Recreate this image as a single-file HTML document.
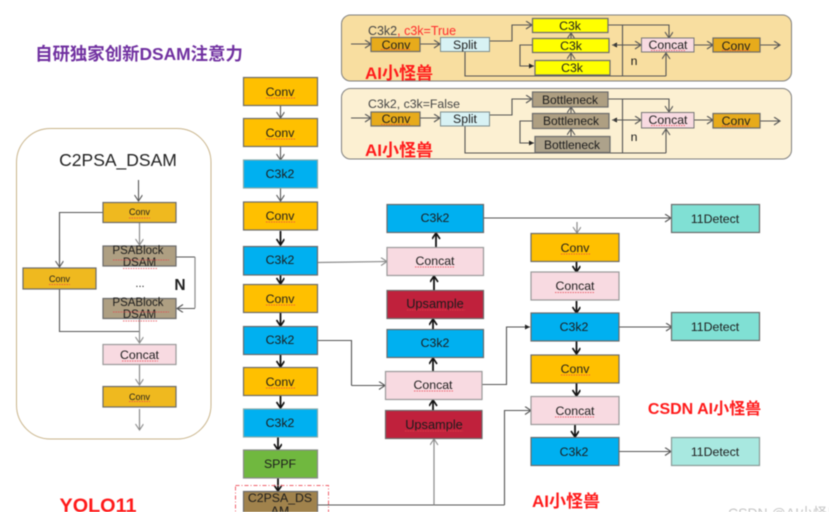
<!DOCTYPE html>
<html><head><meta charset="utf-8">
<style>
html,body{margin:0;padding:0;background:#fff;width:829px;height:512px;overflow:hidden}
svg{display:block;filter:blur(0.45px)}
text{font-family:"Liberation Sans","Noto Sans CJK SC",sans-serif;text-anchor:middle;fill:#1c1c1c}
.b{stroke:#6b6b6b;stroke-width:1.2}
.o{fill:#ffc000}.c{fill:#00b0f0}.p{fill:#f8dae1}.r{fill:#c0213c}.d{fill:#80e0d4}.y{fill:#ffff00}.g{fill:#ae9f82}.j{fill:#efb91f}.k{fill:#e7ab1b}
.t{font-size:12.3px}
.h{stroke:#111;stroke-width:1.8;fill:none}
.l{stroke:#555;stroke-width:1.1;fill:none}
.n{stroke:#8a8a8a;stroke-width:1.2;fill:none}
.w{stroke:#e8404a;stroke-width:1;stroke-dasharray:1.5 1;fill:none;opacity:.75}
.red{fill:#ff1a1a;font-weight:bold}
</style></head><body>
<svg width="829" height="512" viewBox="0 0 829 512" xmlns="http://www.w3.org/2000/svg">
<defs>
<marker id="v" markerWidth="10" markerHeight="10" refX="7" refY="4" orient="auto" markerUnits="userSpaceOnUse"><path d="M1 0L7 4L1 8" fill="none" stroke="#555" stroke-width="1.1"/></marker>
<marker id="g" markerWidth="10" markerHeight="10" refX="7" refY="4" orient="auto" markerUnits="userSpaceOnUse"><path d="M1 0L7 4L1 8" fill="none" stroke="#8a8a8a" stroke-width="1.1"/></marker>
<marker id="h" markerWidth="10" markerHeight="10" refX="7" refY="4" orient="auto" markerUnits="userSpaceOnUse"><path d="M1 0L7 4L1 8" fill="none" stroke="#111" stroke-width="1.6"/></marker>
<marker id="s" markerWidth="7" markerHeight="7" refX="5" refY="2.5" orient="auto" markerUnits="userSpaceOnUse"><path d="M0 0L5 2.5L0 5z" fill="#222"/></marker>
</defs>

<text x="139" y="60" style="font-size:17.400px;font-weight:bold;fill:#7030a0">自研独家创新DSAM注意力</text>

<!-- Top panels -->
<rect x="341.500" y="15" width="450" height="66" rx="9" fill="#f8dea0" stroke="#7f7f7f" stroke-width="1"/>
<rect x="341.500" y="88.500" width="450" height="70.500" rx="9" fill="#fcf0d2" stroke="#7f7f7f" stroke-width="1"/>

<text x="412" y="35" style="font-size:12.500px;fill:#444">C3k2<tspan style="fill:#ff2a2a">, c3k=True</tspan></text>
<text x="414" y="108" style="font-size:12.300px;fill:#444">C3k2, c3k=False</text>

<!-- panel 1 connectors -->
<path class="l" marker-end="url(#v)" d="M351 44H371"/>
<path class="l" marker-end="url(#v)" d="M420 44H440"/>
<path class="l" marker-end="url(#v)" d="M490 41H512V25H532"/>
<path class="l" d="M465 51V76H666"/>
<path class="l" marker-end="url(#v)" d="M666 76V53"/>
<path class="l" marker-end="url(#v)" d="M608 25H669V38"/>
<path class="l" d="M622.500 25V76"/>
<path class="l" marker-end="url(#s)" d="M641 45H612"/>
<path class="l" marker-end="url(#v)" d="M612 45H641"/>
<path class="l" marker-end="url(#v)" d="M694 45H713"/>
<path class="l" marker-end="url(#v)" d="M760 45H780"/>
<path class="l" marker-end="url(#s)" d="M532 45H520V66H534"/>
<path class="l" marker-end="url(#v)" d="M571 38V33"/>
<path class="l" marker-end="url(#v)" d="M571 60V53"/>

<!-- panel 2 connectors -->
<path class="l" marker-end="url(#v)" d="M351 118H371"/>
<path class="l" marker-end="url(#v)" d="M420 118H440"/>
<path class="l" marker-end="url(#v)" d="M490 115H512V99H532"/>
<path class="l" d="M465 126V153H666"/>
<path class="l" marker-end="url(#v)" d="M666 153V129"/>
<path class="l" marker-end="url(#v)" d="M608 99H669V112"/>
<path class="l" d="M622.500 99V153"/>
<path class="l" marker-end="url(#s)" d="M641 120H612"/>
<path class="l" marker-end="url(#v)" d="M612 120H641"/>
<path class="l" marker-end="url(#v)" d="M694 120H713"/>
<path class="l" marker-end="url(#v)" d="M760 121H780"/>
<path class="l" marker-end="url(#s)" d="M532 121H520V143H534"/>
<path class="l" marker-end="url(#v)" d="M571 113V107"/>
<path class="l" marker-end="url(#v)" d="M571 136V129"/>

<!-- panel 1 boxes -->
<rect class="b k" x="371" y="37.500" width="49" height="14"/>
<rect x="440.500" y="37.500" width="49" height="14" fill="#d8f2f4" stroke="#7f8f8f"/>
<rect class="b y" x="532.500" y="18.500" width="75.500" height="14"/>
<rect class="b y" x="532.500" y="38.500" width="76.500" height="14"/>
<rect class="b y" x="535" y="60.500" width="75" height="14.500"/>
<rect x="641.500" y="38" width="52.500" height="14" fill="#f8dae1" stroke="#777"/>
<rect class="b k" x="713" y="38" width="47" height="14"/>
<text x="396" y="49" class="t">Conv</text><text x="465" y="49" class="t">Split</text>
<text x="570" y="30" class="t">C3k</text><text x="571" y="50" class="t">C3k</text><text x="572" y="72" class="t">C3k</text>
<text x="668" y="49" class="t">Concat</text><text x="736" y="50" class="t">Conv</text>
<text x="634" y="65" class="t">n</text>
<path class="w" d="M381 49.500H411M651 50.500H686M722 50.500H750"/>
<text x="399" y="79" class="red" style="font-size:17px">AI小怪兽</text>

<!-- panel 2 boxes -->
<rect class="b k" x="371" y="112" width="49" height="14"/>
<rect x="440.500" y="112" width="49" height="14" fill="#d8f2f4" stroke="#7f8f8f"/>
<rect class="b g" x="532.500" y="92" width="75.500" height="15"/>
<rect class="b g" x="532.500" y="113.500" width="76.500" height="15"/>
<rect class="b" fill="#ada28b" x="535" y="136.500" width="75" height="16"/>
<rect x="641.500" y="112.500" width="52.500" height="15.500" fill="#f8dae1" stroke="#777"/>
<rect class="b k" x="713" y="113.500" width="47" height="14.500"/>
<text x="396" y="123" class="t">Conv</text><text x="465" y="123" class="t">Split</text>
<text x="570" y="104" style="font-size:12px">Bottleneck</text><text x="571" y="125" style="font-size:12px">Bottleneck</text><text x="572" y="149" style="font-size:12px">Bottleneck</text>
<text x="668" y="124" class="t">Concat</text><text x="736" y="125" class="t">Conv</text>
<text x="634" y="141" class="t">n</text>
<path class="w" d="M381 124.500H411M651 125.500H686M722 126H750"/>
<text x="399" y="156" class="red" style="font-size:17px">AI小怪兽</text>

<!-- C2PSA panel -->
<rect x="16.500" y="128.500" width="194.500" height="310.500" rx="34" fill="#fff" stroke="#c9b48a" stroke-width="1"/>
<text x="118" y="166" style="font-size:17.500px;fill:#222">C2PSA_DSAM</text>
<path class="l" marker-end="url(#v)" d="M138.500 180V201"/>
<path class="l" d="M103 212.500H59.500V268"/>
<path class="l" marker-end="url(#v)" d="M59.500 240V267"/>
<path class="n" marker-end="url(#g)" d="M139.500 223V245"/>
<path class="l" d="M176 257H195"/>
<path class="n" d="M195 257V308"/>
<path class="l" marker-end="url(#v)" d="M195 308.500H177"/>
<path class="l" d="M59.500 289V331.500H139.500"/>
<path class="n" marker-end="url(#g)" d="M139.500 319V343"/>
<path class="n" marker-end="url(#g)" d="M139.500 365V385"/>
<path class="n" marker-end="url(#g)" d="M139.500 409V430"/>
<rect class="b j" x="103" y="202.500" width="73" height="20"/>
<rect class="b j" x="23" y="268" width="73" height="21"/>
<rect class="b g" x="103" y="246" width="73" height="20"/>
<rect class="b g" x="103" y="298.500" width="73" height="20"/>
<rect class="b p" x="103" y="344.500" width="73" height="20" style="stroke:#999"/>
<rect class="b j" x="103" y="386.500" width="73" height="20.500"/>
<text x="139.500" y="215" style="font-size:9px">Conv</text>
<text x="59.500" y="282" style="font-size:9px">Conv</text>
<text x="138" y="254" style="font-size:11.500px">PSABlock</text>
<text x="139.500" y="266" style="font-size:11.500px">DSAM</text>
<text x="138" y="306" style="font-size:11.500px">PSABlock</text>
<text x="139.500" y="318" style="font-size:11.500px">DSAM</text>
<text x="140" y="287" style="font-size:11px">...</text>
<text x="180" y="290" style="font-size:15.500px;font-weight:bold;fill:#222">N</text>
<text x="139.500" y="359" class="t">Concat</text>
<text x="139.500" y="400" style="font-size:9px">Conv</text>
<path class="w" d="M129 218H150M49 284.500H70M113 260H169M123 268.500H157M113 312H169M123 321H157M122 361H158M129 401.500H150"/>

<text x="98" y="512" class="red" style="font-size:19.800px">YOLO11</text>

<!-- backbone connectors -->
<path class="l" marker-end="url(#v)" d="M280.500 105V118"/>
<path class="l" marker-end="url(#v)" d="M280.500 147V160"/>
<path class="l" marker-end="url(#v)" d="M280.500 188V201"/>
<path class="h" marker-end="url(#h)" d="M280.500 231V245"/>
<path class="h" marker-end="url(#h)" d="M280.500 275V284"/>
<path class="h" marker-end="url(#h)" d="M280.500 313V326"/>
<path class="h" marker-end="url(#h)" d="M280.500 355V367"/>
<path class="h" marker-end="url(#h)" d="M280.500 396V408"/>
<path class="h" marker-end="url(#h)" d="M278 437V450"/>
<path class="h" marker-end="url(#h)" d="M278 478V491"/>
<!-- backbone boxes -->
<rect class="b o" x="243.500" y="77.500" width="74" height="28"/>
<rect class="b o" x="243.500" y="118.500" width="74" height="28"/>
<rect class="b c" x="243.500" y="160" width="74" height="28" style="stroke:#8aa"/>
<rect class="b o" x="243.500" y="202" width="74" height="28"/>
<rect class="b c" x="243.500" y="246.500" width="74" height="28.500"/>
<rect class="b o" x="243.500" y="284.500" width="74" height="28"/>
<rect class="b c" x="243.500" y="326.500" width="74" height="28"/>
<rect class="b o" x="243.500" y="367.500" width="74" height="28"/>
<rect class="b c" x="243.500" y="409" width="74" height="28" style="stroke:#8aa"/>
<rect class="b" fill="#70b83f" x="243.500" y="450" width="74" height="28" style="stroke:#8a8a8a"/>
<rect class="b" fill="#a0824c" x="243.500" y="491.500" width="74" height="30"/>
<rect x="235.500" y="485.500" width="93" height="40" fill="none" stroke="#f0606a" stroke-width="1" stroke-dasharray="4 2 1 2"/>
<text x="280" y="96" class="t">Conv</text><text x="280" y="137" class="t">Conv</text><text x="280" y="178" class="t">C3k2</text>
<text x="280" y="220" class="t">Conv</text><text x="280" y="264" class="t">C3k2</text><text x="280" y="303" class="t">Conv</text>
<text x="280" y="344" class="t">C3k2</text><text x="280" y="386" class="t">Conv</text><text x="280" y="427" class="t">C3k2</text>
<text x="280" y="468" class="t">SPPF</text>
<text x="280" y="502" class="t">C2PSA_DS</text><text x="280" y="515" class="t">AM</text>
<path class="w" d="M266 98H296M266 139H296M266 222H296M266 305H296M266 388H296"/>

<!-- mid connectors -->
<path class="n" marker-end="url(#g)" d="M318 262.500L387 261.500"/>
<path class="l" d="M318 340.500H351.500V385.500"/>
<path class="l" marker-end="url(#v)" d="M351.500 385.500H385"/>
<path class="l" d="M318 505H504.500"/>
<path class="n" marker-end="url(#g)" d="M434 505V439"/>
<path class="l" marker-end="url(#v)" d="M504.500 505V410.500H531"/>
<path class="l" marker-end="url(#s)" d="M482 384.500H506.500V327H530"/>
<path class="h" marker-end="url(#h)" d="M436 247V233"/>
<path class="h" marker-end="url(#h)" d="M434 290V276"/>
<path class="h" marker-end="url(#h)" d="M433 329V319"/>
<path class="h" marker-end="url(#h)" d="M433 371V358"/>
<path class="h" marker-end="url(#h)" d="M433 410V400"/>
<!-- mid boxes -->
<rect class="b c" x="387" y="204.500" width="96.500" height="28"/>
<rect class="b p" x="387" y="247.500" width="96.500" height="28" style="stroke:#999"/>
<rect class="b r" x="387" y="290.500" width="96.500" height="28"/>
<rect class="b c" x="387" y="329.500" width="96.500" height="28"/>
<rect class="b p" x="385.500" y="371.500" width="96.500" height="28" style="stroke:#999"/>
<rect class="b r" x="385.500" y="410.500" width="96.500" height="28"/>
<text x="435" y="222" class="t">C3k2</text><text x="435" y="265" class="t">Concat</text>
<text x="435" y="308" style="font-size:12.800px">Upsample</text><text x="435" y="347" class="t">C3k2</text>
<text x="433" y="389" class="t">Concat</text><text x="434" y="429" style="font-size:12.800px">Upsample</text>
<path class="w" d="M415 267H455M407 310H465M414 391H453M405 431H463"/>

<!-- right connectors -->
<path class="l" marker-end="url(#v)" d="M484 218H671"/>
<path class="n" marker-end="url(#g)" d="M577 222V233"/>
<path class="h" marker-end="url(#h)" d="M576.500 262V272"/>
<path class="h" marker-end="url(#h)" d="M576.500 301V313"/>
<path class="h" marker-end="url(#h)" d="M576.500 341V354"/>
<path class="h" marker-end="url(#h)" d="M576.500 383V396"/>
<path class="h" marker-end="url(#h)" d="M575 424V437"/>
<path class="l" marker-end="url(#v)" d="M619 327H672"/>
<path class="l" marker-end="url(#v)" d="M619 451.500H671"/>
<!-- right boxes -->
<rect class="b o" x="531" y="233.500" width="88" height="28"/>
<rect class="b p" x="531" y="272" width="88" height="28" style="stroke:#999"/>
<rect class="b c" x="531" y="313" width="88" height="28"/>
<rect class="b o" x="531" y="355" width="88" height="28"/>
<rect class="b p" x="531" y="396.500" width="88" height="28" style="stroke:#999"/>
<rect class="b c" x="531" y="437.500" width="88" height="28"/>
<rect class="b d" x="671.500" y="204.500" width="88" height="28"/>
<rect class="b d" x="671.500" y="312.500" width="88" height="28"/>
<rect class="b" fill="#a8e8e0" x="671.500" y="437.500" width="88" height="28" style="stroke:#8a9a98"/>
<text x="575" y="252" class="t">Conv</text><text x="575" y="290" class="t">Concat</text>
<text x="574" y="331" class="t">C3k2</text><text x="575" y="373" class="t">Conv</text>
<text x="575" y="415" class="t">Concat</text><text x="574" y="456" class="t">C3k2</text>
<text x="715" y="223" class="t">11Detect</text><text x="715" y="331" class="t">11Detect</text><text x="715" y="456" class="t">11Detect</text>
<path class="w" d="M561 254H590M555 292.500H595M561 375H590M555 417H595"/>

<text x="704.500" y="414" class="red" style="font-size:16px">CSDN AI小怪兽</text>
<text x="566" y="507" class="red" style="font-size:17px">AI小怪兽</text>
<text x="728" y="518" style="font-size:14px;fill:#c4c4c4;text-anchor:start">CSDN @AI小怪兽</text>
</svg>
</body></html>
